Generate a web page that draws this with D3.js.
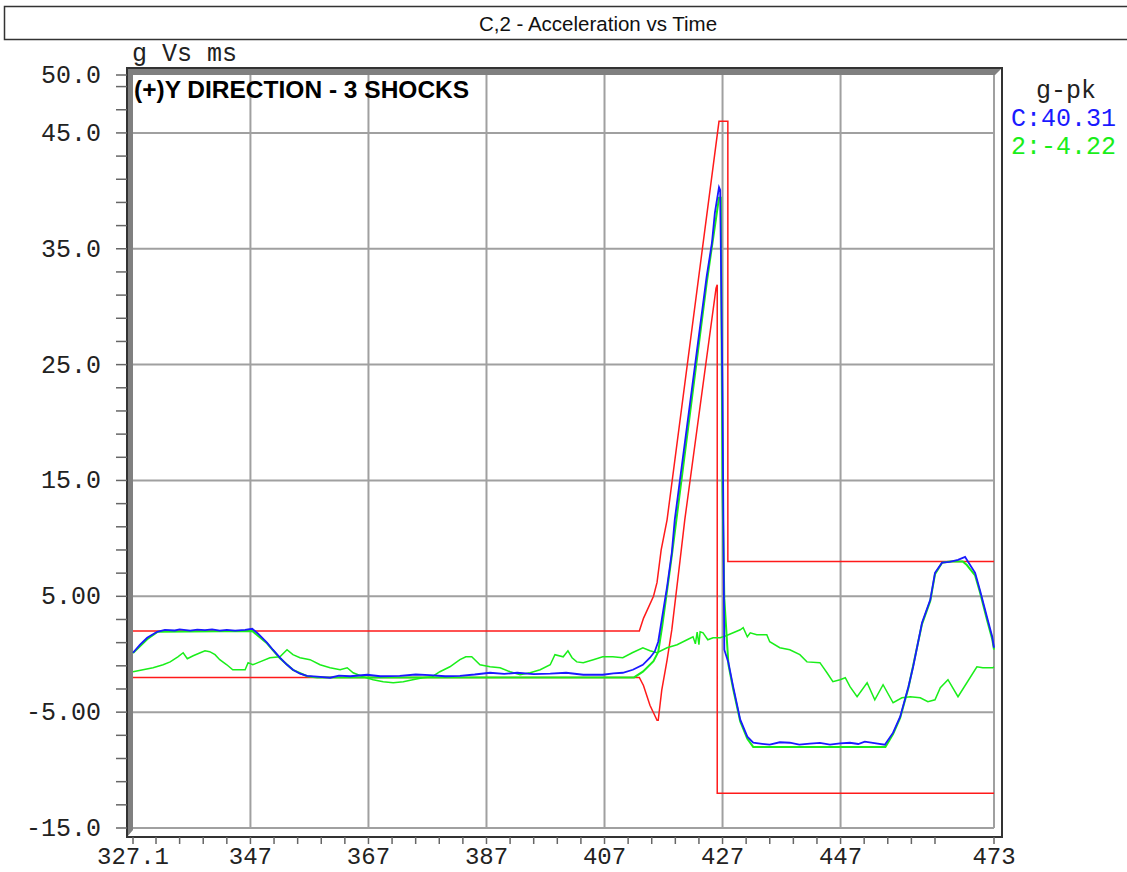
<!DOCTYPE html>
<html>
<head>
<meta charset="utf-8">
<script src="https://cdn.jsdelivr.net/npm/d3@7"></script>
<style>
  body { margin: 0; background: #fff; }
  svg { display: block; }
</style>
</head>
<body>
<div id="chart"></div>
<script>
// axis labels
var yLabels = [[50, "50.0"], [45, "45.0"], [35, "35.0"], [25, "25.0"], [15, "15.0"], [5, "5.00"], [-5, "-5.00"], [-15, "-15.0"]];
var xLabels = [[327.1, "327.1"], [347, "347"], [367, "367"], [387, "387"], [407, "407"], [427, "427"], [447, "447"], [473, "473"]];
var yGrid = [45, 35, 25, 15, 5, -5, -15];
var xGrid = [347, 367, 387, 407, 427, 447, 473];

// tolerance bands (ms, g)
var upperLimit = [[327.1, 2.0], [412.9, 2.0], [413.6, 3.1], [415.3, 5.0], [415.9, 6.2], [416.6, 9.0], [417.6, 11.6],
  [426.4, 46.0], [427.9, 46.0], [427.9, 8.0], [473, 8.0]];
var lowerLimit = [[327.1, -2.0], [412.9, -2.0], [413.6, -2.7], [414.7, -4.4], [415.9, -5.7], [416.1, -5.7], [416.7, -3.1],
  [417.6, -0.5], [418.4, 2.1], [419.8, 8.1], [420.6, 11.6], [425.9, 31.6], [426.1, 31.9], [426.1, -12.0], [473, -12.0]];

// channel C (control)
var controlC = [[327.1, 0.13], [328.3, 0.82], [329.5, 1.42], [331.2, 1.94], [332.5, 2.11], [334.2, 2.05], [335.0, 2.15],
  [336.8, 2.03], [338.0, 2.12], [339.3, 2.08], [340.5, 2.15], [341.8, 2.03], [343.0, 2.1], [344.4, 2.03], [346.1, 2.11],
  [347.3, 2.2], [348.3, 1.77], [349.8, 1.0], [350.8, 0.39], [352.0, -0.3], [353.2, -0.91], [354.2, -1.34], [355.4, -1.68],
  [356.6, -1.86], [358.3, -1.94], [360.5, -2.03], [362.0, -1.85], [363.9, -1.9], [366.8, -1.77], [369.0, -1.9],
  [372.3, -1.86], [375.0, -1.75], [377.4, -1.8], [380.0, -1.9], [382.5, -1.86], [385.0, -1.75], [387.6, -1.6],
  [390.0, -1.7], [392.2, -1.6], [395.0, -1.72], [397.8, -1.68], [400.5, -1.6], [403.4, -1.77], [406.7, -1.77],
  [408.5, -1.65], [410.1, -1.6], [411.8, -1.34], [413.5, -0.91], [414.7, -0.3], [415.5, 0.22], [416.1, 1.08],
  [416.7, 2.98], [417.6, 5.82], [418.4, 8.76], [418.9, 11.6], [424.3, 32.57], [425.2, 35.5], [425.7, 38.09],
  [426.4, 40.31], [426.6, 40.07], [427.0, 21.96], [427.3, 0.39], [428.0, -0.73], [428.8, -2.8], [430.0, -5.65],
  [431.2, -7.12], [432.2, -7.64], [433.4, -7.72], [435.0, -7.81], [436.7, -7.6], [438.4, -7.64], [440.0, -7.8],
  [441.8, -7.72], [443.5, -7.65], [445.2, -7.81], [446.9, -7.7], [448.6, -7.64], [450.0, -7.75], [451.1, -7.55],
  [453.3, -7.72], [454.5, -7.81], [455.9, -6.77], [457.1, -5.39], [458.5, -2.8], [459.3, -1.08], [460.8, 2.72],
  [462.2, 4.7], [463.0, 7.03], [464.2, 7.9], [465.5, 7.98], [466.9, 8.15], [468.1, 8.41], [468.6, 7.98],
  [469.8, 7.03], [470.6, 5.57], [471.8, 3.24], [472.7, 1.51], [473.0, 0.56]];

// trace under C (green)
var underC = [[327.1, 0.1], [329.5, 1.3], [331.3, 1.95], [347.3, 2.0], [349.8, 0.95], [352.0, -0.35], [354.2, -1.35],
  [356.6, -1.9], [358.3, -2.0], [412.0, -2.0], [413.5, -1.5], [415.3, -0.6], [416.1, 0.2], [416.8, 2.5], [418.4, 8.5],
  [424.3, 32.0], [426.4, 39.4], [426.7, 39.4], [427.0, 14.0], [427.3, 4.8], [428.0, -0.9], [428.8, -3.0],
  [430.0, -5.8], [431.2, -7.3], [432.2, -8.0], [454.6, -8.0], [455.9, -6.9], [457.1, -5.5], [458.5, -2.9],
  [460.8, 2.6], [462.2, 4.6], [463.0, 6.9], [464.2, 7.9], [465.5, 8.0], [467.7, 8.0], [468.4, 7.7], [469.8, 6.8],
  [470.6, 5.4], [471.8, 3.0], [472.7, 1.3], [473.0, 0.4]];

// channel 2
var channel2 = [[327.1, -1.51], [328.8, -1.34], [330.5, -1.17], [332.2, -0.91], [333.4, -0.66], [334.7, -0.22],
  [335.6, 0.13], [336.3, -0.39], [337.3, -0.13], [338.5, 0.13], [339.3, 0.3], [340.1, 0.22], [341.0, -0.04],
  [341.8, -0.47], [343.0, -0.91], [344.0, -1.34], [345.2, -1.34], [346.1, -1.34], [346.6, -0.73], [347.4, -0.91],
  [348.6, -0.66], [350.3, -0.3], [352.0, -0.22], [353.2, 0.39], [354.2, -0.04], [355.4, -0.3], [357.1, -0.47],
  [358.8, -0.91], [360.5, -1.17], [362.2, -1.34], [363.4, -1.17], [364.4, -1.6], [366.1, -1.94], [367.8, -2.2],
  [369.5, -2.37], [371.2, -2.46], [372.9, -2.37], [374.5, -2.2], [376.2, -2.03], [377.8, -1.94], [379.1, -1.51],
  [380.8, -1.08], [382.5, -0.47], [383.5, -0.22], [384.5, -0.22], [385.9, -0.91], [387.6, -1.08], [389.3, -1.17],
  [391.0, -1.51], [392.7, -1.77], [394.4, -1.6], [396.1, -1.34], [397.8, -0.91], [398.6, -0.04], [400.0, -0.22],
  [400.8, 0.3], [401.5, -0.3], [402.3, -0.66], [403.4, -0.73], [405.1, -0.47], [406.7, -0.22], [408.4, -0.22],
  [410.1, -0.3], [411.7, 0.13], [413.5, 0.56], [414.7, 0.3], [415.9, 0.13], [417.6, 0.56], [419.3, 0.82],
  [421.0, 1.25], [422.0, 1.51], [422.4, 0.9], [422.7, 1.9], [423.0, 0.82], [423.2, 1.94], [423.7, 1.85],
  [424.5, 1.25], [425.4, 1.42], [426.6, 1.42], [427.6, 1.6], [428.8, 1.85], [430.0, 2.11], [430.5, 2.29],
  [431.2, 1.51], [431.7, 1.85], [432.8, 1.68], [434.5, 1.68], [435.0, 1.08], [436.7, 0.56], [438.4, 0.39],
  [440.1, -0.04], [441.3, -0.66], [443.5, -0.73], [444.7, -1.6], [445.7, -2.37], [446.9, -2.2], [447.8, -2.03],
  [448.6, -2.8], [449.8, -3.67], [451.5, -2.46], [452.8, -3.93], [454.2, -2.63], [455.9, -4.19], [457.4, -3.76],
  [458.8, -3.67], [460.5, -3.76], [461.8, -4.1], [463.0, -3.93], [463.9, -2.89], [465.2, -2.2], [466.9, -3.67],
  [468.4, -2.46], [470.1, -1.08], [471.1, -1.17], [472.8, -1.17], [473.0, -1.08]];

var chartWidth = 1127, chartHeight = 872;
var plotLeft = 133, plotRight = 994, plotTop = 75, plotBottom = 828;

var svg = d3.select("#chart").append("svg").attr("width", chartWidth).attr("height", chartHeight);

var xScale = d3.scaleLinear().domain([327.1, 473]).range([plotLeft, plotRight]);
var yScale = d3.scaleLinear().domain([-15, 50]).range([plotBottom, plotTop]);

var mono = "'Liberation Mono', 'Courier New', monospace";
var sans = "'Liberation Sans', Arial, sans-serif";

// title box
svg.append("rect").attr("x", 4.5).attr("y", 6.5).attr("width", 1160).attr("height", 33)
  .style("fill", "none").style("stroke", "#333").style("stroke-width", 1.5);
svg.append("text").text("C,2 - Acceleration vs Time")
  .attr("x", 598).attr("y", 31).attr("text-anchor", "middle")
  .style("font-family", sans).style("font-size", "20.5px").style("fill", "#111");

// grid
svg.selectAll("line.hgrid").data(yGrid).enter().append("line").attr("class", "hgrid")
  .attr("x1", plotLeft).attr("x2", plotRight)
  .attr("y1", function (d) { return yScale(d); }).attr("y2", function (d) { return yScale(d); })
  .style("stroke", "#a0a0a0").style("stroke-width", 2);
svg.selectAll("line.vgrid").data(xGrid).enter().append("line").attr("class", "vgrid")
  .attr("y1", plotTop).attr("y2", plotBottom)
  .attr("x1", function (d) { return xScale(d); }).attr("x2", function (d) { return xScale(d); })
  .style("stroke", "#a0a0a0").style("stroke-width", 2);

// sunken frame: gray bevel on top and left, dark outline
var fx0 = 127, fy0 = 68, fx1 = 1002, fy1 = 837;
svg.append("polygon")
  .attr("points", [[fx0, fy0], [fx1, fy0], [plotRight + 1, plotTop], [plotLeft, plotTop], [plotLeft, plotBottom + 2], [fx0, fy1]].join(" "))
  .style("fill", "#808080");
svg.append("rect").attr("x", fx0).attr("y", fy0).attr("width", fx1 - fx0).attr("height", fy1 - fy0)
  .style("fill", "none").style("stroke", "#333").style("stroke-width", 2);

// ticks
var yTicks = d3.range(-15, 50, 2).concat([50]);
svg.selectAll("line.ytick").data(yTicks).enter().append("line").attr("class", "ytick")
  .attr("x1", 116).attr("x2", fx0)
  .attr("y1", function (d) { return yScale(d); }).attr("y2", function (d) { return yScale(d); })
  .style("stroke", "#666").style("stroke-width", 1.5);
var xTicks = [327.1].concat(d3.range(331, 464, 4)).concat([473]);
svg.selectAll("line.xtick").data(xTicks).enter().append("line").attr("class", "xtick")
  .attr("y1", fy1).attr("y2", fy1 + 7)
  .attr("x1", function (d) { return xScale(d); }).attr("x2", function (d) { return xScale(d); })
  .style("stroke", "#666").style("stroke-width", 1.5);

// tick labels
svg.selectAll("text.ylab").data(yLabels).enter().append("text").attr("class", "ylab")
  .text(function (d) { return d[1]; })
  .attr("x", 101).attr("y", function (d) { return yScale(d[0]) + 8; })
  .attr("text-anchor", "end")
  .style("font-family", mono).style("font-size", "25px").style("fill", "#222");
svg.selectAll("text.xlab").data(xLabels).enter().append("text").attr("class", "xlab")
  .text(function (d) { return d[1]; })
  .attr("x", function (d) { return xScale(d[0]); }).attr("y", 864)
  .attr("text-anchor", "middle")
  .style("font-family", mono).style("font-size", "24px").style("fill", "#222");

svg.append("text").text("g Vs ms").attr("x", 132).attr("y", 61)
  .style("font-family", mono).style("font-size", "25px").style("fill", "#222");

// traces
var line = d3.line()
  .x(function (d) { return xScale(d[0]); })
  .y(function (d) { return yScale(d[1]); });

function drawTrace(data, color, w) {
  svg.append("path").datum(data).attr("d", line)
    .style("fill", "none").style("stroke", color).style("stroke-width", w)
    .style("stroke-linejoin", "miter");
}
drawTrace(upperLimit, "#ff1a1a", 1.5);
drawTrace(lowerLimit, "#ff1a1a", 1.5);
drawTrace(channel2, "#1aee1a", 1.5);
drawTrace(underC, "#1aee1a", 2);
drawTrace(controlC, "#1a1aff", 1.8);

// inner label
svg.append("text").text("(+)Y DIRECTION - 3 SHOCKS").attr("x", 134).attr("y", 98)
  .style("font-family", sans).style("font-weight", "bold").style("font-size", "24.5px").style("fill", "#000");

// legend
svg.append("text").text("g-pk").attr("x", 1066).attr("y", 98).attr("text-anchor", "middle")
  .style("font-family", mono).style("font-size", "25px").style("fill", "#222");
svg.append("text").text("C:40.31").attr("x", 1011).attr("y", 126)
  .style("font-family", mono).style("font-size", "25px").style("fill", "#1a1aff");
svg.append("text").text("2:-4.22").attr("x", 1011).attr("y", 154)
  .style("font-family", mono).style("font-size", "25px").style("fill", "#1aee1a");
</script>
</body>
</html>
